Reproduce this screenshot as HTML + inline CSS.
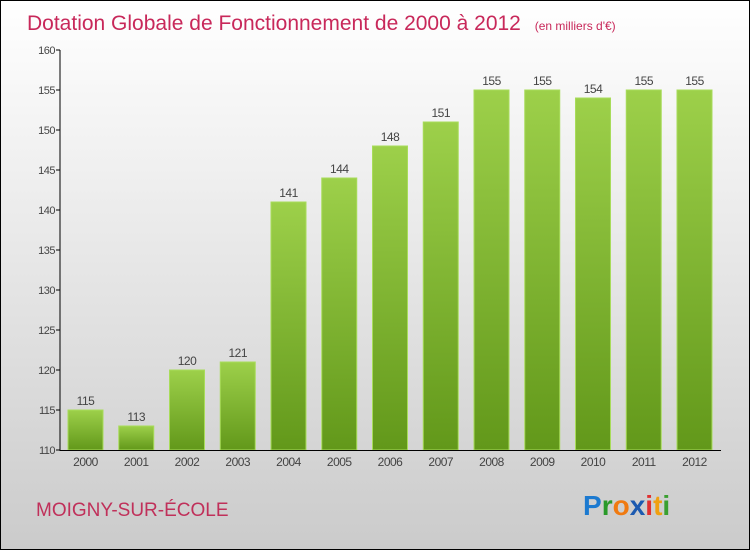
<!DOCTYPE html>
<html><head><meta charset="utf-8"><style>
body{margin:0}
#wrap{width:748px;height:548px;border:1px solid #000;background:linear-gradient(#fff,#f0f0f0 30%,#cbcbcb);position:relative;overflow:hidden;font-family:"Liberation Sans",sans-serif}
</style></head><body>
<div id="wrap">
<svg width="748" height="548" viewBox="1 1 748 548" id="svg">
<defs><linearGradient id="g" x1="0" y1="0" x2="0" y2="1"><stop offset="0" stop-color="#9dd04a"/><stop offset="1" stop-color="#62981a"/></linearGradient></defs>
<text x="27" y="30" font-size="21" fill="#c8285a">Dotation Globale de Fonctionnement de 2000 à 2012 <tspan font-size="12" dx="8">(en milliers d'€)</tspan></text>
<text x="36" y="516" font-size="19" fill="#c0305a">MOIGNY-SUR-ÉCOLE</text>
<text x="583" y="515" font-size="28" font-weight="bold"><tspan fill="#1c7ad0">P</tspan><tspan fill="#2a9a2a">r</tspan><tspan fill="#f07a10">o</tspan><tspan fill="#1c5ab0">x</tspan><tspan fill="#e03030">i</tspan><tspan fill="#f0a010">t</tspan><tspan fill="#3aa030">i</tspan></text>
<g id="plot"></g>
</svg>
<script>
const years=["2000","2001","2002","2003","2004","2005","2006","2007","2008","2009","2010","2011","2012"];
const values=[115,113,120,121,141,144,148,151,155,155,154,155,155];
const ticks=[110,115,120,125,130,135,140,145,150,155,160];
const NS="http://www.w3.org/2000/svg",g=document.getElementById('plot');
const y=v=>450-(v-110)*8, x=i=>68+i*50.75;
function mk(t,a){const e=document.createElementNS(NS,t);for(const k in a)e.setAttribute(k,a[k]);g.appendChild(e);return e;}
ticks.forEach(t=>{
 const l=mk('line',{x1:56,x2:60,y1:y(t),y2:y(t),stroke:'#000'});
 
 
 const tx=mk('text',{x:55,y:y(t)+4,'text-anchor':'end','font-size':11,fill:'#444','letter-spacing':'-0.5'});tx.textContent=t;
 
 
});
years.forEach((yr,i)=>{
 const r=mk('rect',{x:x(i),y:y(values[i]),width:35,height:450-y(values[i]),fill:'url(#g)',stroke:'#a8dc5a','stroke-width':1});
 
 
 const v=mk('text',{x:x(i)+17.5,y:y(values[i])-5,'text-anchor':'middle','font-size':12,fill:'#444','letter-spacing':'-0.5'});v.textContent=values[i];
 
 
 const t=mk('text',{x:x(i)+17.5,y:466,'text-anchor':'middle','font-size':12,fill:'#444','letter-spacing':'-0.5'});t.textContent=yr;
 
 
});
const ya=mk('line',{x1:60,x2:60,y1:50,y2:451,stroke:'#000'});


const xa=mk('line',{x1:60,x2:721,y1:450.5,y2:450.5,stroke:'#000'});


</script>
</div></body></html>
